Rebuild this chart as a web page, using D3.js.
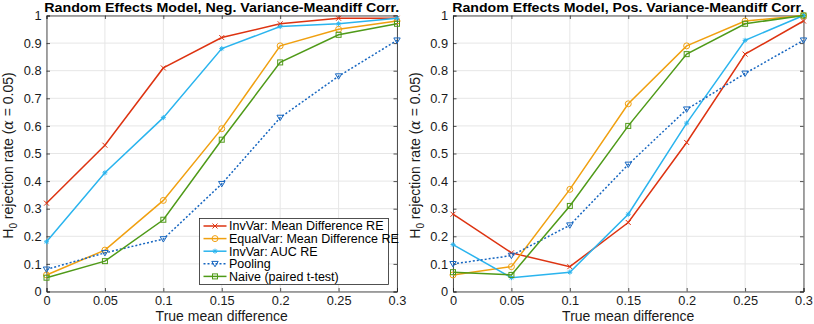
<!DOCTYPE html>
<html><head><meta charset="utf-8">
<script src="https://cdn.jsdelivr.net/npm/d3@7"></script>
<style>
body{margin:0;background:#fff;}
svg text{font-family:"Liberation Sans",Arial,sans-serif;}
</style></head><body>
<svg id="c" width="814" height="324"></svg>
<script>
const xVals = [0, 0.05, 0.1, 0.15, 0.2, 0.25, 0.3];
const xTicks = [0, 0.05, 0.1, 0.15, 0.2, 0.25, 0.3];
const yTicks = [0, 0.1, 0.2, 0.3, 0.4, 0.5, 0.6, 0.7, 0.8, 0.9, 1];
const seriesNames = ["InvVar: Mean Difference RE", "EqualVar: Mean Difference RE", "InvVar: AUC RE", "Pooling", "Naive (paired t-test)"];
const seriesColors = ["#dd3311", "#f0a010", "#2ab4ee", "#1666c0", "#4f9a18"];
const seriesMarkers = ["x", "o", "*", "v", "s"];
const seriesDash = [null, null, null, "2,2", null];

const titles = ["Random Effects Model, Neg. Variance-Meandiff Corr.", "Random Effects Model, Pos. Variance-Meandiff Corr."];

const negInvVarMD   = [0.32, 0.53, 0.81, 0.92, 0.97, 0.99, 0.99];
const negEqualVarMD = [0.06, 0.15, 0.33, 0.59, 0.89, 0.95, 0.98];
const negInvVarAUC  = [0.18, 0.43, 0.63, 0.88, 0.96, 0.97, 0.99];
const negPooling    = [0.08, 0.14, 0.19, 0.39, 0.63, 0.78, 0.91];
const negNaive      = [0.05, 0.11, 0.26, 0.55, 0.83, 0.93, 0.97];

const posInvVarMD   = [0.28, 0.14, 0.09, 0.25, 0.54, 0.86, 0.98];
const posEqualVarMD = [0.06, 0.09, 0.37, 0.68, 0.89, 0.98, 1.00];
const posInvVarAUC  = [0.17, 0.05, 0.07, 0.28, 0.61, 0.91, 1.00];
const posPooling    = [0.10, 0.13, 0.24, 0.46, 0.66, 0.79, 0.91];
const posNaive      = [0.07, 0.06, 0.31, 0.60, 0.86, 0.97, 1.00];

const panels = [
  {title: titles[0], series: [negInvVarMD, negEqualVarMD, negInvVarAUC, negPooling, negNaive], left: 46.5, titleW: 355, legend: true},
  {title: titles[1], series: [posInvVarMD, posEqualVarMD, posInvVarAUC, posPooling, posNaive], left: 453, titleW: 352, legend: false}
];

const svg = d3.select("#c");
const W = 350.5, pTop = 15.5, pBottom = 291.5;

function marker(g, type, x, y, color) {
  const r = 2.5;
  if (type === "x") {
    g.append("path").attr("d", `M${x-r},${y-r}L${x+r},${y+r}M${x-r},${y+r}L${x+r},${y-r}`).attr("stroke", color).attr("stroke-width", 1).attr("fill", "none");
  } else if (type === "o") {
    g.append("circle").attr("cx", x).attr("cy", y).attr("r", 3).attr("stroke", color).attr("fill", "none").attr("stroke-width", 1);
  } else if (type === "*") {
    g.append("path").attr("d", `M${x-r},${y}L${x+r},${y}M${x},${y-r}L${x},${y+r}M${x-r*0.7},${y-r*0.7}L${x+r*0.7},${y+r*0.7}M${x-r*0.7},${y+r*0.7}L${x+r*0.7},${y-r*0.7}`).attr("stroke", color).attr("stroke-width", 1).attr("fill", "none");
  } else if (type === "v") {
    g.append("path").attr("d", `M${x-3.2},${y-2.4}L${x+3.2},${y-2.4}L${x},${y+3}Z`).attr("stroke", color).attr("fill", "none").attr("stroke-width", 1);
  } else if (type === "s") {
    g.append("rect").attr("x", x-2.5).attr("y", y-2.5).attr("width", 5).attr("height", 5).attr("stroke", color).attr("fill", "none").attr("stroke-width", 1);
  }
}

panels.forEach(p => {
  const x = d3.scaleLinear().domain([0, 0.3]).range([p.left, p.left + W]);
  const y = d3.scaleLinear().domain([0, 1]).range([pBottom, pTop]);
  const g = svg.append("g");

  // grid
  g.selectAll(".gx").data(xTicks).join("line")
    .attr("x1", d => x(d)).attr("x2", d => x(d)).attr("y1", pTop).attr("y2", pBottom)
    .attr("stroke", "#e6e6e6").attr("stroke-width", 1);
  g.selectAll(".gy").data(yTicks).join("line")
    .attr("x1", p.left).attr("x2", p.left + W).attr("y1", d => y(d)).attr("y2", d => y(d))
    .attr("stroke", "#e6e6e6").attr("stroke-width", 1);

  // axes with inward ticks
  const xa = g.append("g").attr("transform", `translate(0,${pBottom})`)
    .call(d3.axisBottom(x).tickValues(xTicks).tickSize(-3.5).tickPadding(4.8).tickFormat(d => String(+d.toFixed(2))));
  const ya = g.append("g").attr("transform", `translate(${p.left},0)`)
    .call(d3.axisLeft(y).tickValues(yTicks).tickSize(-3.5).tickPadding(5).tickFormat(d => String(+d.toFixed(1))));
  const xa2 = g.append("g").attr("transform", `translate(0,${pTop})`)
    .call(d3.axisTop(x).tickValues(xTicks).tickSize(-3.5).tickFormat(""));
  const ya2 = g.append("g").attr("transform", `translate(${p.left + W},0)`)
    .call(d3.axisRight(y).tickValues(yTicks).tickSize(-3.5).tickFormat(""));
  [xa, ya, xa2, ya2].forEach(a => {
    a.selectAll("path,line").attr("stroke", "#262626").attr("stroke-width", 0.8);
    a.selectAll("text").attr("fill", "#1a1a1a").attr("font-size", 12.8).attr("font-family", "Liberation Sans, Arial, sans-serif");
  });

  // series
  p.series.forEach((vals, i) => {
    const line = d3.line().x((d, j) => x(xVals[j])).y(d => y(d));
    g.append("path").datum(vals).attr("d", line).attr("fill", "none")
      .attr("stroke", seriesColors[i]).attr("stroke-width", 1.5)
      .attr("stroke-dasharray", seriesDash[i]);
    vals.forEach((v, j) => marker(g, seriesMarkers[i], x(xVals[j]), y(v), seriesColors[i]));
  });

  // title
  g.append("text").attr("x", p.left + W / 2).attr("y", 12.3).attr("text-anchor", "middle")
    .attr("font-weight", "bold").attr("font-size", 12.5).attr("fill", "#000")
    .attr("textLength", p.titleW).attr("lengthAdjust", "spacingAndGlyphs").text(p.title);
  // x label
  g.append("text").attr("x", p.left + W / 2).attr("y", 321.2).attr("text-anchor", "middle")
    .attr("font-size", 14).attr("fill", "#1a1a1a").text("True mean difference");
  // y label
  const yl = g.append("text").attr("transform", `translate(${p.left - 33.5},${(pTop + pBottom) / 2 + 2}) rotate(-90)`)
    .attr("text-anchor", "middle").attr("font-size", 14).attr("fill", "#1a1a1a");
  yl.append("tspan").text("H");
  yl.append("tspan").attr("font-size", 10).attr("dy", 4).text("0");
  yl.append("tspan").attr("dy", -4).text(" rejection rate (");
  yl.append("tspan").attr("font-style", "italic").attr("font-family", "DejaVu Serif, serif").text("α");
  yl.append("tspan").text(" = 0.05)");

  if (p.legend) {
    const lx = 199.5, ly = 218.5, lw = 189, lh = 66;
    const lg = g.append("g");
    lg.append("rect").attr("x", lx).attr("y", ly).attr("width", lw).attr("height", lh)
      .attr("fill", "#fff").attr("stroke", "#262626").attr("stroke-width", 0.8);
    seriesNames.forEach((n, i) => {
      const yy = ly + 7.5 + i * 12.6;
      lg.append("line").attr("x1", lx + 4).attr("x2", lx + 27).attr("y1", yy).attr("y2", yy)
        .attr("stroke", seriesColors[i]).attr("stroke-width", 1.5).attr("stroke-dasharray", seriesDash[i]);
      marker(lg, seriesMarkers[i], lx + 15.5, yy, seriesColors[i]);
      lg.append("text").attr("x", lx + 29.5).attr("y", yy + 4.3).attr("font-size", 12.5).attr("fill", "#000").text(n);
    });
  }
});
</script>
</body></html>
